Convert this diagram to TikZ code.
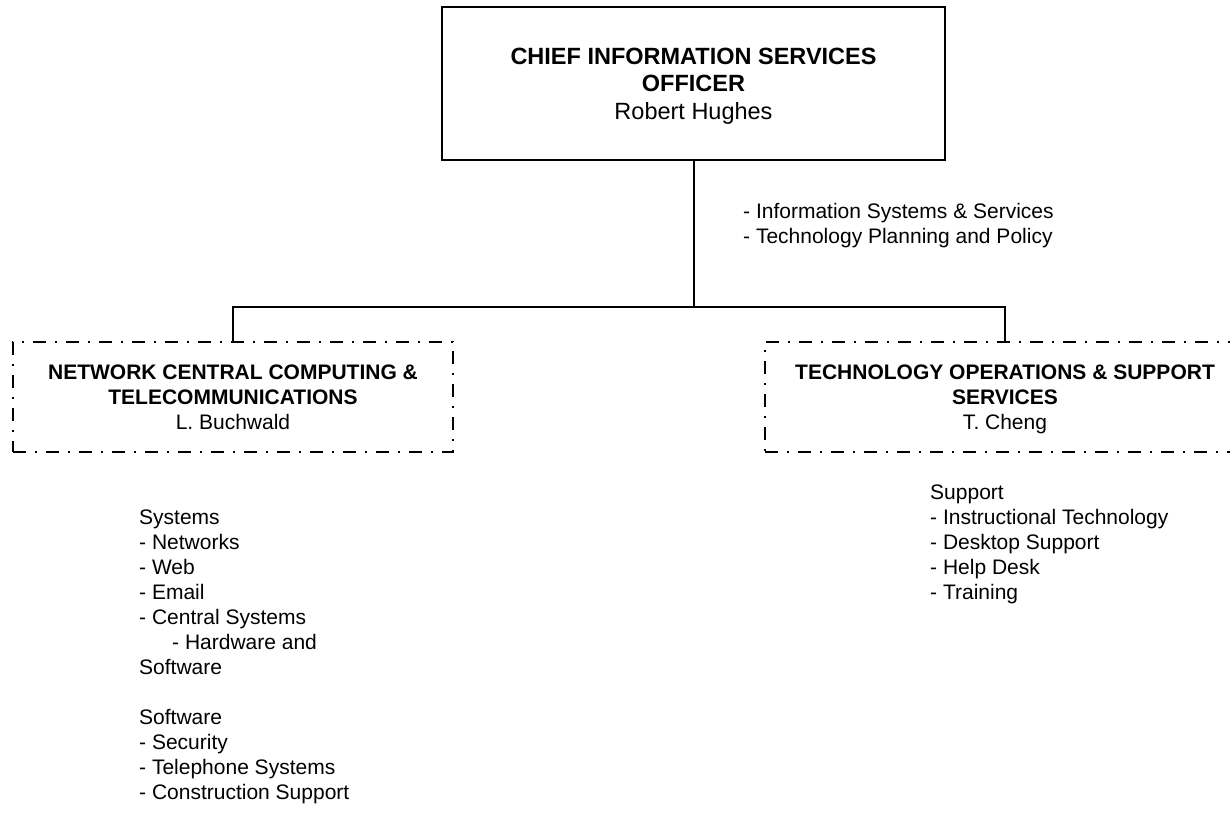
\documentclass[tikz,border=0pt]{standalone}
\usepackage{fontspec}
\setmainfont{Liberation Sans}
\newcommand\firstln{\rule{0pt}{19pt}}
\newcommand\lastln{\rule[-4pt]{0pt}{4pt}}
\newcommand\tfirst{\rule{0pt}{21.4pt}}
\newcommand\tlast{\rule[-4.6pt]{0pt}{4.6pt}}
\begin{document}
\begin{tikzpicture}[x=1pt,y=-1pt,
  topbox/.style={draw, line width=2pt, minimum width=503pt, minimum height=153pt, inner sep=0pt, align=center, font=\fontsize{23.5}{27.5}\selectfont},
  dashbox/.style={draw, line width=1.6pt, dash pattern=on 13pt off 9pt on 2pt off 9pt, inner sep=0pt, align=center, font=\fontsize{21}{25}\selectfont},
  conn/.style={draw, line width=2pt},
  lbl/.style={anchor=north west, inner sep=0pt, align=left, font=\fontsize{21}{25}\selectfont}]
\useasboundingbox (0,0) rectangle (1230,813);
\node[topbox] (ciso) at (693.5,83.5) {\tfirst\textbf{CHIEF INFORMATION SERVICES}\\\textbf{OFFICER}\\Robert Hughes\tlast};
\node[dashbox, minimum width=440pt, minimum height=110pt] (ncct) at (233,397) {\firstln\textbf{NETWORK CENTRAL COMPUTING \&}\\\textbf{TELECOMMUNICATIONS}\\L. Buchwald\lastln};
\node[dashbox, minimum width=480pt, minimum height=110pt] (toss) at (1005,397) {\firstln\textbf{TECHNOLOGY OPERATIONS \& SUPPORT}\\\textbf{SERVICES}\\T. Cheng\lastln};
\coordinate (j) at (693.5,307);
\draw[conn] (ciso.south) -- (j);
\draw[conn] (ncct.north) |- (j) -| (toss.north);
\node[lbl] (isl) at (743,199.5) {\firstln- Information Systems \& Services\\- Technology Planning and Policy};
\node[lbl] (sysl) at (139,505.5) {\firstln Systems\\- Networks\\- Web\\- Email\\- Central Systems\\\hspace*{33pt}- Hardware and\\Software\\[25pt]Software\\- Security\\- Telephone Systems\\- Construction Support};
\node[lbl] (supl) at (930,480.5) {\firstln Support\\- Instructional Technology\\- Desktop Support\\- Help Desk\\- Training};
\end{tikzpicture}
\end{document}
